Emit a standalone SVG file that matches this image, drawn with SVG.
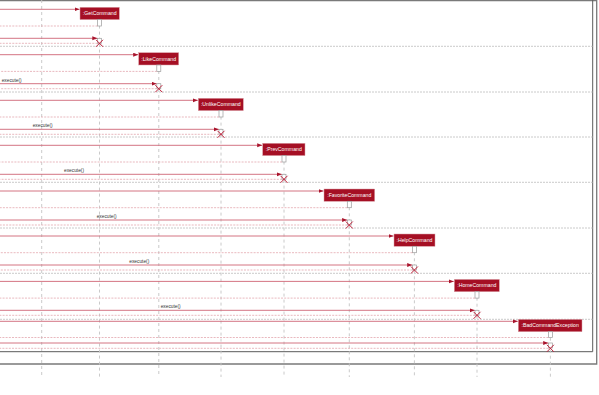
<svg xmlns="http://www.w3.org/2000/svg" width="599" height="395" viewBox="0 0 599 395">
<style>
.bg{fill:#ffffff}
.frame{fill:none;stroke:#7a7a7a;stroke-width:1.3}
.inner{fill:none;stroke:#5a5a5a;stroke-width:1}
.sep{stroke:#bdbdbd;stroke-width:0.8;stroke-dasharray:2,1}
.life{stroke:#c4c4c4;stroke-width:0.9;stroke-dasharray:3,3}
.box{fill:#a50f24;stroke:#d9a0a8;stroke-width:0.5}
.lbl{font-family:"Liberation Sans",Arial,sans-serif;font-size:5.2px;fill:#ffffff;text-anchor:middle}
.act{fill:#ffffff;stroke:#9a9a9a;stroke-width:0.7}
.call{stroke:#cf6575;stroke-width:0.9;fill:none}
.ret{stroke:#e3a7af;stroke-width:0.8;stroke-dasharray:2,1.2;fill:none}
.x{stroke:#c0203a;stroke-width:1}
.msg{font-family:"Liberation Sans",Arial,sans-serif;font-size:4.8px;fill:#333333}
</style>
<defs>
<marker id="ah" markerUnits="userSpaceOnUse" markerWidth="6" markerHeight="5" refX="5" refY="2" orient="auto">
<path d="M0,0 L5,2 L0,4 z" fill="#a8142c"/>
</marker>
</defs>
<rect class="bg" x="0" y="0" width="599" height="395"/>
<g id="frame">
<path class="frame" d="M0,0.6 H596.7 V364 H0"/>
<path class="inner" d="M592.7,0 V351.7 H0"/>
</g>
<g id="separators">
<line class="sep" x1="0" y1="46.3" x2="592.7" y2="46.3"/>
<line class="sep" x1="0" y1="92" x2="592.7" y2="92"/>
<line class="sep" x1="0" y1="137" x2="592.7" y2="137"/>
<line class="sep" x1="0" y1="182.3" x2="592.7" y2="182.3"/>
<line class="sep" x1="0" y1="228" x2="592.7" y2="228"/>
<line class="sep" x1="0" y1="273.3" x2="592.7" y2="273.3"/>
<line class="sep" x1="0" y1="319.3" x2="592.7" y2="319.3"/>
</g>
<g id="lifeline-left">
<line class="life" x1="41.7" y1="0" x2="41.7" y2="377"/>
</g>
<g id="GetCommand">
<line class="life" x1="99.5" y1="19.6" x2="99.5" y2="377"/>
<rect class="box" x="80" y="7.3" width="39.3" height="12.3"/>
<text class="lbl" x="99.7" y="15.3">:GetCommand</text>
<rect class="act" x="97.5" y="19.6" width="4" height="6.4"/>
<rect class="act" x="97.5" y="38.3" width="4" height="5"/>
<path class="x" d="M96,39.8 L103,46.8 M103,39.8 L96,46.8"/>
</g>
<g id="LikeCommand">
<line class="life" x1="158.8" y1="65" x2="158.8" y2="377"/>
<rect class="box" x="138.7" y="52.7" width="40" height="12.3"/>
<text class="lbl" x="158.7" y="60.7">:LikeCommand</text>
<rect class="act" x="156.8" y="65" width="4" height="6.4"/>
<rect class="act" x="156.8" y="83.7" width="4" height="5"/>
<path class="x" d="M155.3,85.2 L162.3,92.2 M162.3,85.2 L155.3,92.2"/>
</g>
<g id="UnlikeCommand">
<line class="life" x1="221" y1="110.6" x2="221" y2="377"/>
<rect class="box" x="198.3" y="98.3" width="45" height="12.3"/>
<text class="lbl" x="220.8" y="106.3">:UnlikeCommand</text>
<rect class="act" x="219" y="110.6" width="4" height="6.4"/>
<rect class="act" x="219" y="129.3" width="4" height="5"/>
<path class="x" d="M217.5,130.8 L224.5,137.8 M224.5,130.8 L217.5,137.8"/>
</g>
<g id="PrevCommand">
<line class="life" x1="284" y1="155.6" x2="284" y2="377"/>
<rect class="box" x="262.7" y="143.3" width="42.3" height="12.3"/>
<text class="lbl" x="283.8" y="151.3">:PrevCommand</text>
<rect class="act" x="282" y="155.6" width="4" height="6.4"/>
<rect class="act" x="282" y="174.3" width="4" height="5"/>
<path class="x" d="M280.5,175.8 L287.5,182.8 M287.5,175.8 L280.5,182.8"/>
</g>
<g id="FavoriteCommand">
<line class="life" x1="349.3" y1="201.3" x2="349.3" y2="377"/>
<rect class="box" x="324" y="189" width="50.7" height="12.3"/>
<text class="lbl" x="349.3" y="197">:FavoriteCommand</text>
<rect class="act" x="347.3" y="201.3" width="4" height="6.4"/>
<rect class="act" x="347.3" y="220" width="4" height="5"/>
<path class="x" d="M345.8,221.5 L352.8,228.5 M352.8,221.5 L345.8,228.5"/>
</g>
<g id="HelpCommand">
<line class="life" x1="414.4" y1="246.3" x2="414.4" y2="377"/>
<rect class="box" x="394" y="234" width="41" height="12.3"/>
<text class="lbl" x="414.5" y="242">:HelpCommand</text>
<rect class="act" x="412.4" y="246.3" width="4" height="6.4"/>
<rect class="act" x="412.4" y="265" width="4" height="5"/>
<path class="x" d="M410.9,266.5 L417.9,273.5 M417.9,266.5 L410.9,273.5"/>
</g>
<g id="HomeCommand">
<line class="life" x1="477" y1="291.7" x2="477" y2="377"/>
<rect class="box" x="454.3" y="279.4" width="45" height="12.3"/>
<text class="lbl" x="476.8" y="287.4">:HomeCommand</text>
<rect class="act" x="475" y="291.7" width="4" height="6.4"/>
<rect class="act" x="475" y="310.3" width="4" height="5"/>
<path class="x" d="M473.5,311.8 L480.5,318.8 M480.5,311.8 L473.5,318.8"/>
</g>
<g id="BadCommandException">
<line class="life" x1="550.4" y1="331.7" x2="550.4" y2="377"/>
<rect class="box" x="518.3" y="319.4" width="63.7" height="12.3"/>
<text class="lbl" x="550.2" y="327.4">:BadCommandException</text>
<rect class="act" x="548.4" y="331.7" width="4" height="5.8"/>
<rect class="act" x="548.4" y="343" width="4" height="5"/>
<path class="x" d="M546.9,344.8 L553.9,351.8 M553.9,344.8 L546.9,351.8"/>
</g>
<g id="connectors">
<line class="call" x1="0" y1="9.3" x2="79.5" y2="9.3" marker-end="url(#ah)"/>
<line class="ret" x1="97.5" y1="26" x2="0" y2="26"/>
<line class="call" x1="0" y1="38.3" x2="97.3" y2="38.3" marker-end="url(#ah)"/>
<line class="ret" x1="97.5" y1="43.3" x2="0" y2="43.3"/>

<line class="call" x1="0" y1="54.7" x2="138.2" y2="54.7" marker-end="url(#ah)"/>
<line class="ret" x1="156.8" y1="71.4" x2="0" y2="71.4"/>
<line class="call" x1="0" y1="83.7" x2="156.6" y2="83.7" marker-end="url(#ah)"/>
<line class="ret" x1="156.8" y1="88.7" x2="0" y2="88.7"/>

<line class="call" x1="0" y1="100.3" x2="197.8" y2="100.3" marker-end="url(#ah)"/>
<line class="ret" x1="219" y1="117" x2="0" y2="117"/>
<line class="call" x1="0" y1="129.3" x2="218.8" y2="129.3" marker-end="url(#ah)"/>
<line class="ret" x1="219" y1="134.3" x2="0" y2="134.3"/>

<line class="call" x1="0" y1="145.3" x2="262.2" y2="145.3" marker-end="url(#ah)"/>
<line class="ret" x1="282" y1="162" x2="0" y2="162"/>
<line class="call" x1="0" y1="174.3" x2="281.8" y2="174.3" marker-end="url(#ah)"/>
<line class="ret" x1="282" y1="179.3" x2="0" y2="179.3"/>

<line class="call" x1="0" y1="191" x2="323.5" y2="191" marker-end="url(#ah)"/>
<line class="ret" x1="347.3" y1="207.7" x2="0" y2="207.7"/>
<line class="call" x1="0" y1="220" x2="347.1" y2="220" marker-end="url(#ah)"/>
<line class="ret" x1="347.3" y1="225" x2="0" y2="225"/>

<line class="call" x1="0" y1="236" x2="393.5" y2="236" marker-end="url(#ah)"/>
<line class="ret" x1="412.4" y1="252.7" x2="0" y2="252.7"/>
<line class="call" x1="0" y1="265" x2="412.2" y2="265" marker-end="url(#ah)"/>
<line class="ret" x1="412.4" y1="270" x2="0" y2="270"/>

<line class="call" x1="0" y1="281.4" x2="453.8" y2="281.4" marker-end="url(#ah)"/>
<line class="ret" x1="475" y1="298.1" x2="0" y2="298.1"/>
<line class="call" x1="0" y1="310.3" x2="474.8" y2="310.3" marker-end="url(#ah)"/>
<line class="ret" x1="475" y1="315.3" x2="0" y2="315.3"/>

<line class="call" x1="0" y1="321.3" x2="517.8" y2="321.3" marker-end="url(#ah)"/>
<line class="ret" x1="548.4" y1="337.5" x2="0" y2="337.5"/>
<line class="call" x1="0" y1="343" x2="548.2" y2="343" marker-end="url(#ah)"/>
<line class="ret" x1="548.4" y1="348.3" x2="0" y2="348.3"/>

<text class="msg" x="1.7" y="81.7">execute()</text>
<text class="msg" x="32.7" y="127.3">execute()</text>
<text class="msg" x="64" y="172.3">execute()</text>
<text class="msg" x="96.7" y="218">execute()</text>
<text class="msg" x="129.3" y="263">execute()</text>
<text class="msg" x="160.7" y="308.3">execute()</text>
</g>
</svg>
